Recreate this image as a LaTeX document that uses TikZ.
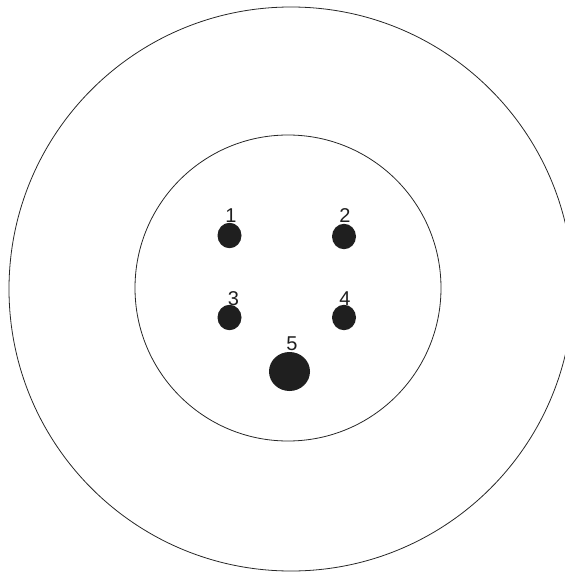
\documentclass[tikz,border=0pt]{standalone}
\usepackage{fontspec}
\setmainfont{Liberation Sans}
\begin{document}
\begin{tikzpicture}[x=1pt,y=-1pt,
  ring/.style={draw=black!85,line width=0.8pt},
  pin/.style={fill=black!88,draw=none},
  lbl/.style={font=\fontsize{20}{20}\selectfont,text=black!88,inner sep=0pt}]
\useasboundingbox (0,0) rectangle (564,572);
\draw[ring] (291,289) circle (282);
\draw[ring] (288,288) circle (153);
\fill[pin] (229.5,235.5) ellipse (12 and 12.7) coordinate (p1);
\fill[pin] (344,236.5) ellipse (12 and 12.7) coordinate (p2);
\fill[pin] (229.5,317.5) ellipse (12 and 12.7) coordinate (p3);
\fill[pin] (344,317.5) ellipse (12 and 12.7) coordinate (p4);
\fill[pin] (289.5,371.5) ellipse (20.5 and 19.5) coordinate (p5);
\node[lbl] (l1) at (231,216) {1};
\node[lbl] (l2) at (345,216) {2};
\node[lbl] (l3) at (233.5,298.5) {3};
\node[lbl] (l4) at (345,298.5) {4};
\node[lbl] (l5) at (292,344) {5};
\end{tikzpicture}
\end{document}
